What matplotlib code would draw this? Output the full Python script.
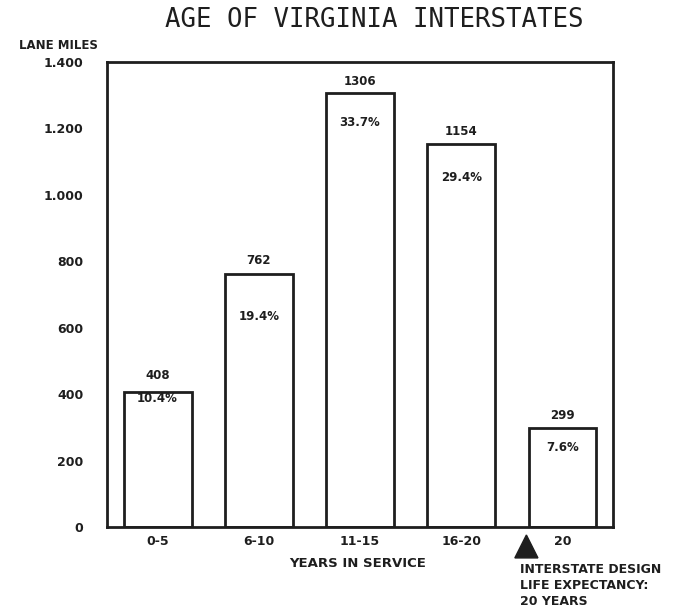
import matplotlib
matplotlib.use("Agg")
import matplotlib.pyplot as plt
from matplotlib.patches import Polygon

categories = ["0-5", "6-10", "11-15", "16-20", "20"]
lane_miles = [408, 762, 1306, 1154, 299]
percent_labels = ["10.4%", "19.4%", "33.7%", "29.4%", "7.6%"]
y_ticks = [0, 200, 400, 600, 800, 1000, 1200, 1400]
y_tick_labels = ["0", "200", "400", "600", "800", "1.000", "1.200", "1.400"]

ink = "#1e1e1e"
fig = plt.figure(figsize=(6.99, 6.09), dpi=100)
ax = fig.add_axes([0.1531, 0.1346, 0.7239, 0.7636])

x = list(range(len(categories)))
ax.bar(x, lane_miles, width=0.67, facecolor="white", edgecolor=ink, linewidth=2.0)
ax.set_xlim(-0.5, 4.5)
ax.set_ylim(0, 1400)

for s in ax.spines.values():
    s.set_linewidth(2.0)
    s.set_color(ink)

ax.set_yticks(y_ticks)
ax.set_yticklabels(y_tick_labels)
ax.set_xticks(x)
ax.set_xticklabels(categories)
ax.tick_params(axis="both", length=0, labelsize=9, colors=ink)
ax.tick_params(axis="y", pad=17)
ax.tick_params(axis="x", pad=6)
for lbl in ax.get_xticklabels() + ax.get_yticklabels():
    lbl.set_fontweight("bold")

val_offsets = [7, 5, 4, 4, 4]        # points above bar top
pct_offsets = [-5, -31, -21, -24, -14]  # points below bar top
for xi, v, p, voff, off in zip(x, lane_miles, percent_labels, val_offsets, pct_offsets):
    ax.annotate(str(v), (xi, v), xytext=(0, voff), textcoords="offset points",
                ha="center", va="bottom", fontsize=8.5, fontweight="bold", color=ink)
    ax.annotate(p, (xi, v), xytext=(0, off), textcoords="offset points",
                ha="center", va="center", fontsize=8.5, fontweight="bold", color=ink)

fig.text(0.535, 0.967, "AGE OF VIRGINIA INTERSTATES", ha="center", va="center",
         fontsize=18.5, family="DejaVu Sans Mono", color=ink)
fig.text(0.083, 0.926, "LANE MILES", ha="center", va="center", fontsize=8.5,
         fontweight="bold", color=ink)
fig.text(0.511, 0.0755, "YEARS IN SERVICE", ha="center", va="center", fontsize=9.5,
         fontweight="bold", color=ink)

# design-life marker triangle below the axis
tri = Polygon([[3.644, -24], [3.530, -93], [3.758, -93]], closed=True,
              facecolor=ink, edgecolor=ink, clip_on=False,
              transform=ax.transData)
ax.add_patch(tri)
fig.text(0.744, 0.0755, "INTERSTATE DESIGN\nLIFE EXPECTANCY:\n20 YEARS",
         ha="left", va="top", fontsize=9, fontweight="bold", color=ink,
         linespacing=1.3)

fig.savefig("out.png", dpi=100)
